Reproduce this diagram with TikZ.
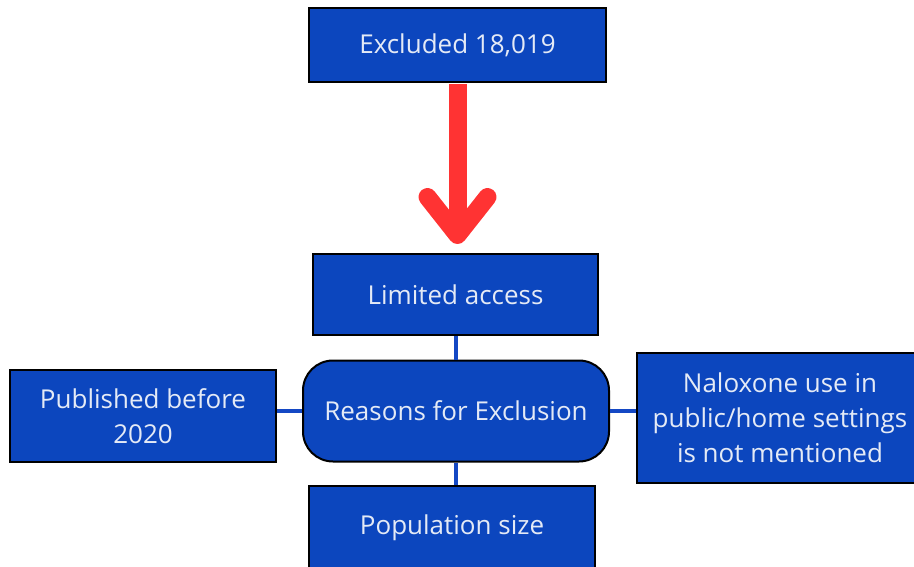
\documentclass[tikz,border=0pt]{standalone}
\usepackage{fontspec}
\setmainfont{Open Sans}
\definecolor{boxblue}{RGB}{12,70,190}
\definecolor{linkblue}{RGB}{20,72,196}
\definecolor{txt}{RGB}{228,234,246}
\definecolor{arrowred}{RGB}{255,51,51}
\begin{document}
\begin{tikzpicture}[x=1pt,y=-1pt,
  blk/.style={draw=black,line width=2pt,fill=boxblue,text=txt,inner sep=0pt,
    font=\fontsize{26}{35}\selectfont,align=center},
  link/.style={draw=linkblue,line width=4.5pt},
  bigarrow/.style={draw=arrowred,line width=18pt,line cap=round,line join=round}]
\useasboundingbox (0,0) rectangle (914,567);
\clip (0,0) rectangle (914,567);
\node[blk,minimum width=297pt,minimum height=74pt] (top) at (457.5,45) {Excluded 18,019};
\node[blk,minimum width=285pt,minimum height=81pt] (lim) at (455.5,294.5) {Limited access};
\node[blk,rounded corners=30pt,minimum width=306pt,minimum height=101pt] (reas) at (456,411) {Reasons for Exclusion};
\node[blk,minimum width=266pt,minimum height=92pt] (pub) at (143,416) {Published before\\2020};
\node[blk,minimum width=286pt,minimum height=130pt] (nal) at (780,418) {Naloxone use in\\public/home settings\\is not mentioned};
\node[blk,minimum width=286pt,minimum height=84pt] (pop) at (452,528) {Population size};
% connectors
\draw[link] (lim.south -| reas.north) -- (reas.north);
\draw[link] (reas.south) -- (reas.south |- pop.north);
\draw[link] (pub.east |- reas.west) -- (reas.west);
\draw[link] (reas.east) -- (reas.east -| nal.west);
% red arrow
\coordinate (tip) at ([yshift=18pt]lim.north -| top.south);
\draw[draw=arrowred,line width=18pt] ([yshift=-1.5pt]top.south) -- (tip);
\draw[bigarrow] ([xshift=-30pt,yshift=38pt]tip) -- (tip) -- ([xshift=30pt,yshift=38pt]tip);
\end{tikzpicture}
\end{document}
